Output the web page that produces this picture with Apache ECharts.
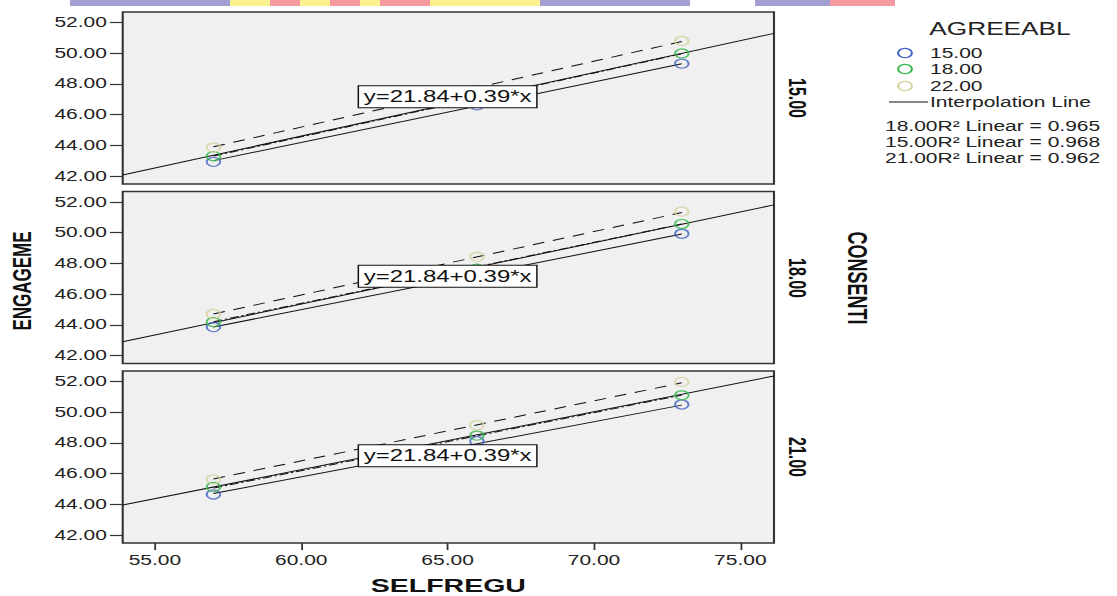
<!DOCTYPE html>
<html><head><meta charset="utf-8">
<script src="https://cdn.jsdelivr.net/npm/echarts@6/dist/echarts.min.js"></script>
<style>
html,body{margin:0;padding:0;background:#fff;overflow:hidden}
#wrap{width:1117px;height:596px;overflow:hidden}
#chart{width:745px;height:596px;transform:scaleX(1.49933);transform-origin:0 0}
</style></head>
<body><div id="wrap"><div id="chart"></div></div>
<script>
// ---- data ----
const xLevels = [57, 66, 73];                 // SELFREGU levels
const panelNames = ['15.00', '18.00', '21.00']; // CONSENTI
const groupNames = ['15.00', '18.00', '22.00']; // AGREEABL
const xTicks = [55, 60, 65, 70, 75];
const yTicks = [42, 44, 46, 48, 50, 52];

// CONSENTI = 15.00
const c15_a15 = [42.92, 46.60, 49.31];
const c15_a18 = [43.29, 47.00, 49.97];
const c15_a22 = [43.85, 47.60, 50.78];
// CONSENTI = 18.00
const c18_a15 = [43.85, 47.25, 49.92];
const c18_a18 = [44.18, 47.65, 50.56];
const c18_a22 = [44.70, 48.42, 51.36];
// CONSENTI = 21.00
const c21_a15 = [44.64, 48.10, 50.49];
const c21_a18 = [45.12, 48.47, 51.09];
const c21_a22 = [45.62, 49.14, 51.96];

// fit-line end values at x = 57 and x = 73
const fitX = [57, 73];
const fit15_a15 = [43.00, 49.30];
const fit15_a18 = [43.30, 49.95];
const fit15_a22 = [43.90, 50.75];
const fit18_a15 = [43.85, 49.90];
const fit18_a18 = [44.20, 50.55];
const fit18_a22 = [44.70, 51.30];
const fit21_a15 = [44.70, 50.45];
const fit21_a18 = [45.05, 51.10];
const fit21_a22 = [45.65, 51.90];

// overall interpolation line end values at the axis ends
const totalX = [53.9, 76.15];
const total15 = [42.07, 51.28];
const total18 = [42.90, 51.80];
const total21 = [43.95, 52.35];

const eqText = 'y=21.84+0.39*x';
const eqPos = [65, 47.15];
const r2Lines = ['18.00R\u00B2 Linear = 0.965', '15.00R\u00B2 Linear = 0.968', '21.00R\u00B2 Linear = 0.962'];

// ---- styling ----
const FONT = 'Liberation Sans, Arial, sans-serif';
const groupColors = ['#4463c4', '#36b84c', '#d6d19c'];
const fitTypes = ['solid', [6, 2, 1.5, 2], [8, 6]];
const SX = 1.49933;

const panelVals = [[c15_a15, c15_a18, c15_a22], [c18_a15, c18_a18, c18_a22], [c21_a15, c21_a18, c21_a22]];
const panelFits = [[fit15_a15, fit15_a18, fit15_a22], [fit18_a15, fit18_a18, fit18_a22], [fit21_a15, fit21_a18, fit21_a22]];
const panelTotals = [total15, total18, total21];

const gridLeft = 122.7 / SX, gridRight = 745 - 774 / SX;
const gridTops = [12, 191.5, 371];
const gridH = 172;

const grids = gridTops.map(t => ({
  left: gridLeft, right: gridRight, top: t, height: gridH,
  show: true, backgroundColor: '#f0f0f0', borderColor: '#333', borderWidth: 1.4
}));

const xAxes = gridTops.map((t, i) => ({
  type: 'value', gridIndex: i, min: totalX[0], max: totalX[1],
  axisLine: { show: false }, splitLine: { show: false },
  axisTick: i === 2 ? { show: true, customValues: xTicks, length: 7, lineStyle: { color: '#333', width: 1.2 } } : { show: false },
  axisLabel: i === 2 ? { show: true, customValues: xTicks, margin: 10, fontSize: 14, color: '#222', fontFamily: FONT, formatter: v => v.toFixed(2) } : { show: false },
  name: i === 2 ? 'SELFREGU' : '', nameLocation: 'middle', nameGap: 33,
  nameTextStyle: { fontSize: 19, fontWeight: 'bold', color: '#111', fontFamily: FONT }
}));

const yAxes = gridTops.map((t, i) => ({
  type: 'value', gridIndex: i, min: 41.48, max: 52.67,
  axisLine: { show: false }, splitLine: { show: false },
  axisTick: { show: true, customValues: yTicks, length: 8.5, lineStyle: { color: '#333', width: 1.2 } },
  axisLabel: { show: true, customValues: yTicks, margin: 10.5, fontSize: 14, color: '#222', fontFamily: FONT, formatter: v => v.toFixed(2) }
}));

const series = [];
for (let p = 0; p < 3; p++) {
  series.push({
    type: 'line', xAxisIndex: p, yAxisIndex: p, symbol: 'none', silent: true, z: 2,
    data: totalX.map((x, i) => [x, panelTotals[p][i]]),
    lineStyle: { color: '#111', width: 1 },
    markPoint: {
      symbol: 'rect', symbolSize: [1, 1], itemStyle: { color: 'rgba(0,0,0,0)' }, z: 20,
      data: [{ coord: eqPos, value: eqText }],
      label: { show: true, position: 'inside', formatter: eqText, fontSize: 16, color: '#111', fontFamily: FONT,
        backgroundColor: '#fff', borderColor: '#111', borderWidth: 1, padding: [3, 3, 2, 3] }
    }
  });
  for (let g = 0; g < 3; g++) {
    series.push({
      type: 'line', xAxisIndex: p, yAxisIndex: p, symbol: 'none', silent: true, z: 3,
      data: fitX.map((x, i) => [x, panelFits[p][g][i]]),
      lineStyle: { color: '#111', width: 1, type: fitTypes[g] }
    });
  }
  for (let g = 0; g < 3; g++) {
    series.push({
      type: 'scatter', name: groupNames[g], xAxisIndex: p, yAxisIndex: p, z: 4,
      symbol: 'circle', symbolSize: 9,
      itemStyle: { color: 'rgba(0,0,0,0)', borderColor: groupColors[g], borderWidth: 1.3 },
      data: xLevels.map((x, i) => [x, panelVals[p][g][i]])
    });
  }
}

// ---- texts / legend (graphic) ----
const graphic = [];
// top decorative strip
const strip = [[70,230,'#a39fd0'],[230,270,'#faf28c'],[270,300,'#f59aa0'],[300,330,'#faf28c'],[330,360,'#f59aa0'],[360,380,'#faf28c'],[380,430,'#f59aa0'],[430,540,'#faf28c'],[540,690,'#a39fd0'],[755,830,'#a39fd0'],[830,895,'#f59aa0']];
strip.forEach(s => graphic.push({ type: 'rect', shape: { x: s[0] / SX, y: 0, width: (s[1] - s[0]) / SX, height: 6 }, style: { fill: s[2] }, silent: true }));

graphic.push({ type: 'text', x: 22 / SX, y: 281, rotation: Math.PI / 2,
  style: { text: 'ENGAGEME', fontSize: 17, fontWeight: 'bold', fill: '#111', fontFamily: FONT, align: 'center', verticalAlign: 'middle' } });
const panelCY = [98, 278, 457];
panelNames.forEach((n, i) => graphic.push({ type: 'text', x: 797 / SX, y: panelCY[i], rotation: -Math.PI / 2,
  style: { text: n, fontSize: 16, fontWeight: 'bold', fill: '#111', fontFamily: FONT, align: 'center', verticalAlign: 'middle' } }));
graphic.push({ type: 'text', x: 857 / SX, y: 278, rotation: -Math.PI / 2,
  style: { text: 'CONSENTI', fontSize: 18, fontWeight: 'bold', fill: '#111', fontFamily: FONT, align: 'center', verticalAlign: 'middle' } });

// legend
graphic.push({ type: 'text', x: 1000 / SX, y: 29, style: { text: 'AGREEABL', fontSize: 17.5, fill: '#222', fontFamily: FONT, align: 'center', verticalAlign: 'middle' } });
const legY = [53, 69, 86];
groupNames.forEach((n, i) => {
  graphic.push({ type: 'circle', shape: { cx: 905 / SX, cy: legY[i], r: 4.6 }, style: { fill: 'none', stroke: groupColors[i], lineWidth: 1.3 } });
  graphic.push({ type: 'text', x: 930 / SX, y: legY[i], style: { text: n, fontSize: 14, fill: '#222', fontFamily: FONT, align: 'left', verticalAlign: 'middle' } });
});
graphic.push({ type: 'line', shape: { x1: 889 / SX, y1: 102, x2: 928 / SX, y2: 102 }, style: { stroke: '#111', lineWidth: 1 } });
graphic.push({ type: 'text', x: 930 / SX, y: 102, style: { text: 'Interpolation Line', fontSize: 14, fill: '#222', fontFamily: FONT, align: 'left', verticalAlign: 'middle' } });
const r2Y = [126, 142, 158];
r2Lines.forEach((t, i) => graphic.push({ type: 'text', x: 885 / SX, y: r2Y[i], style: { text: t, fontSize: 14, fill: '#222', fontFamily: FONT, align: 'left', verticalAlign: 'middle' } }));

const chart = echarts.init(document.getElementById('chart'), null, { renderer: 'svg' });
chart.setOption({
  animation: false,
  backgroundColor: '#fff',
  grid: grids, xAxis: xAxes, yAxis: yAxes, series: series, graphic: graphic
});
</script>
</body></html>
